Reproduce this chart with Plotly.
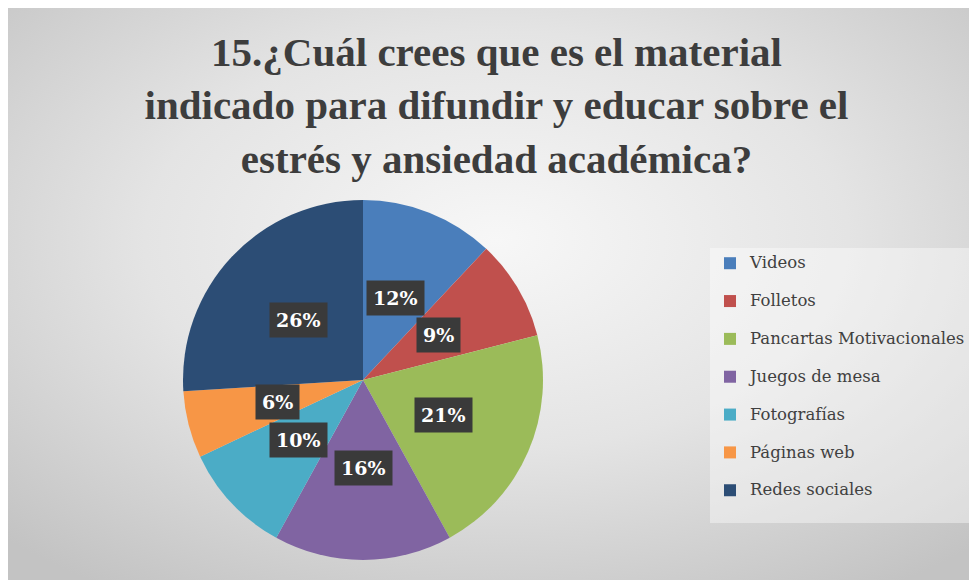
import math, base64
import plotly.graph_objects as go

# ---- data ----
categories = ["Videos", "Folletos", "Pancartas Motivacionales", "Juegos de mesa",
              "Fotografías", "Páginas web", "Redes sociales"]
values = [12, 9, 21, 16, 10, 6, 26]
colors = ["#4A7EBB", "#C0504D", "#9BBB59", "#8064A2", "#4BACC6", "#F79646", "#2C4D75"]
title_text = ("15.¿Cuál crees que es el material<br>indicado para difundir y educar sobre el"
              "<br>estrés y ansiedad académica?")

W, H = 977, 580
cx_px, cy_px, R = 355, 372, 180  # pie geometry in figure pixels (from top-left)

# background radial gradient as svg
svg = ('<svg xmlns="http://www.w3.org/2000/svg" width="977" height="580" preserveAspectRatio="none">'
       '<defs><radialGradient id="g" cx="50%" cy="40%" r="72%">'
       '<stop offset="0%" stop-color="#f7f7f7"/><stop offset="50%" stop-color="#e4e4e4"/>'
       '<stop offset="100%" stop-color="#c3c3c3"/></radialGradient></defs>'
       '<rect width="977" height="580" fill="url(#g)"/></svg>')
bg_src = "data:image/svg+xml;base64," + base64.b64encode(svg.encode()).decode()

legend_labels = ['<span style="font-size:16.5px">' + c + "</span><br>\u00a0" for c in categories]

fig = go.Figure(go.Pie(
    labels=legend_labels,
    values=values,
    customdata=categories,
    hovertemplate="%{customdata}: %{percent}<extra></extra>",
    sort=False,
    direction="clockwise",
    rotation=0,
    marker=dict(colors=colors, line=dict(width=0)),
    textinfo="none",
    domain=dict(x=[(cx_px - R) / W, (cx_px + R) / W],
                y=[(H - cy_px - R) / H, (H - cy_px + R) / H]),
))

# label boxes at half radius along each slice's middle angle
total = sum(values)
cum = 0
annotations = []
for v in values:
    mid = (cum + v / 2) / total * 2 * math.pi
    cum += v
    r = 0.49 * R
    x = (cx_px + r * math.sin(mid)) / W
    y = (H - cy_px + r * math.cos(mid)) / H
    annotations.append(dict(
        x=x, y=y, xref="paper", yref="paper", showarrow=False,
        xanchor="center", yanchor="middle",
        text=f"{round(v / total * 100)}%",
        font=dict(family="DejaVu Serif", size=19, color="white", weight="bold"),
        bgcolor="#3a3a3a", borderpad=6,
    ))

fig.update_layout(
    width=W, height=H,
    margin=dict(l=0, r=0, t=0, b=0),
    paper_bgcolor="#dcdcdc",
    plot_bgcolor="rgba(0,0,0,0)",
    images=[dict(source=bg_src, xref="paper", yref="paper",
                 x=0, y=1, sizex=1, sizey=1,
                 xanchor="left", yanchor="top", sizing="stretch", layer="below")],
    title=dict(text=title_text, x=0.5, xanchor="center", y=1 - 58 / H, yanchor="middle",
               yref="container",
               font=dict(family="Liberation Serif", size=41, color="#3d3d3d", weight="bold")),
    legend=dict(x=702 / W, xanchor="left", y=1 - 240 / H, yanchor="top",
                bgcolor="rgba(255,255,255,0.4)", borderwidth=0, valign="top",
                font=dict(family="DejaVu Serif", size=13.4, color="#404040")),
    annotations=annotations,
)

fig.write_html("out.html")
